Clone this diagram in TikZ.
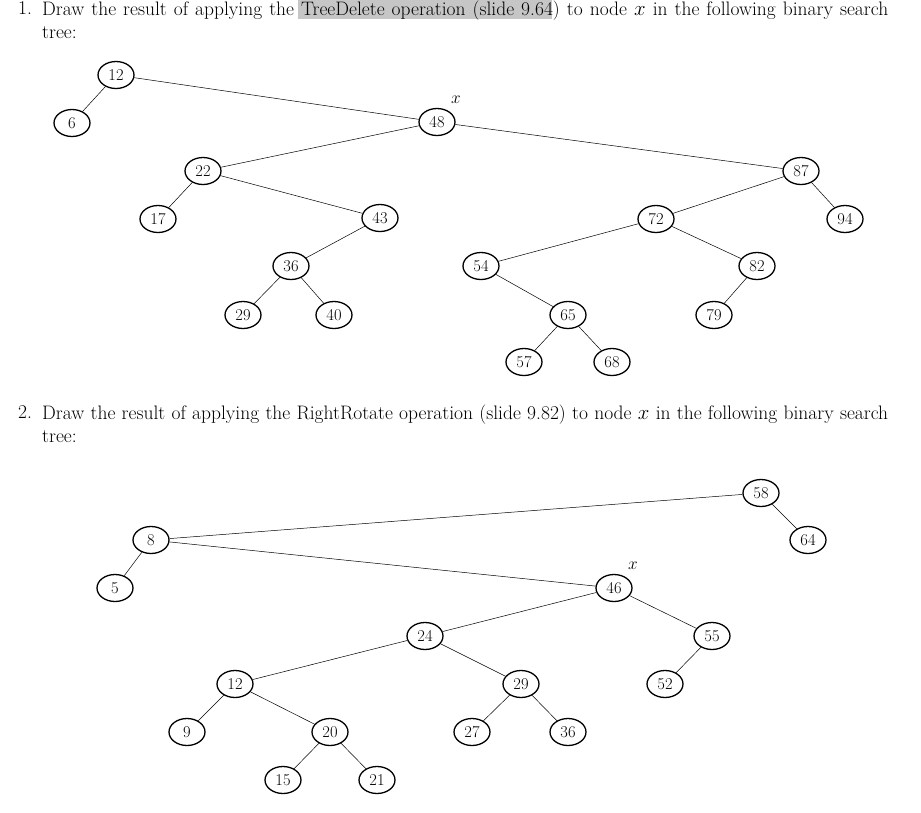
\documentclass[tikz,border=0pt]{standalone}
\usepackage{fontspec}
\usetikzlibrary{shapes.geometric}
\begin{document}
\begin{tikzpicture}[x=1pt,y=-1pt,
  nd/.style={ellipse,draw,line width=1.3pt,minimum width=36pt,minimum height=27pt,inner sep=0pt,font=\fontsize{16.5}{16.5}\selectfont},
  ed/.style={line width=0.5pt},
  para/.style={anchor=north west,text width=846pt,align=justify,inner sep=0pt,font=\fontsize{19.5}{23}\selectfont}]
\useasboundingbox (0,0) rectangle (921,812);
\fill[gray!45] (298,0) rectangle (552,19);
\node[anchor=north west,inner sep=0pt,font=\fontsize{19.5}{23}\selectfont] (n1) at (18,1) {1.};
\node[para] (p1) at (42,1) {Draw the result of applying the TreeDelete operation (slide 9.64) to node $x$ in the following binary search tree:};
\node[anchor=north west,inner sep=0pt,font=\fontsize{19.5}{23}\selectfont] (n2) at (18,405) {2.};
\node[para] (p2) at (42,405) {Draw the result of applying the RightRotate operation (slide 9.82) to node $x$ in the following binary search tree:};
% tree 1
\foreach \n/\x/\y in {12/116/75,6/72/123,48/437/122,22/203/171,17/158/219,43/380/218,36/291/266,29/243/315,40/334/315,87/801/171,94/845/219,72/656/219,54/481/266,65/568/315,57/524/362,68/612/362,82/757/266,79/714/315}
  \node[nd] (a\n) at (\x,\y) {\n};
\node[font=\fontsize{16.5}{16.5}\selectfont] (xa) at (456,100) {$x$};
\foreach \p/\c in {12/6,12/48,48/22,48/87,22/17,22/43,43/36,36/29,36/40,87/72,87/94,72/54,72/82,54/65,65/57,65/68,82/79}
  \draw[ed] (a\p) -- (a\c);
% tree 2
\foreach \n/\x/\y in {58/761/493,64/808/540,8/151/540,5/115/588,46/614/588,24/425/636,55/712/636,52/665/684,12/235/684,9/187/732,20/330/732,15/283/780,21/377/780,29/521/684,27/472/732,36/568/732}
  \node[nd] (b\n) at (\x,\y) {\n};
\node[font=\fontsize{16.5}{16.5}\selectfont] (xb) at (633,566) {$x$};
\foreach \p/\c in {58/8,58/64,8/5,8/46,46/24,46/55,55/52,24/12,24/29,12/9,12/20,20/15,20/21,29/27,29/36}
  \draw[ed] (b\p) -- (b\c);
\end{tikzpicture}
\end{document}
